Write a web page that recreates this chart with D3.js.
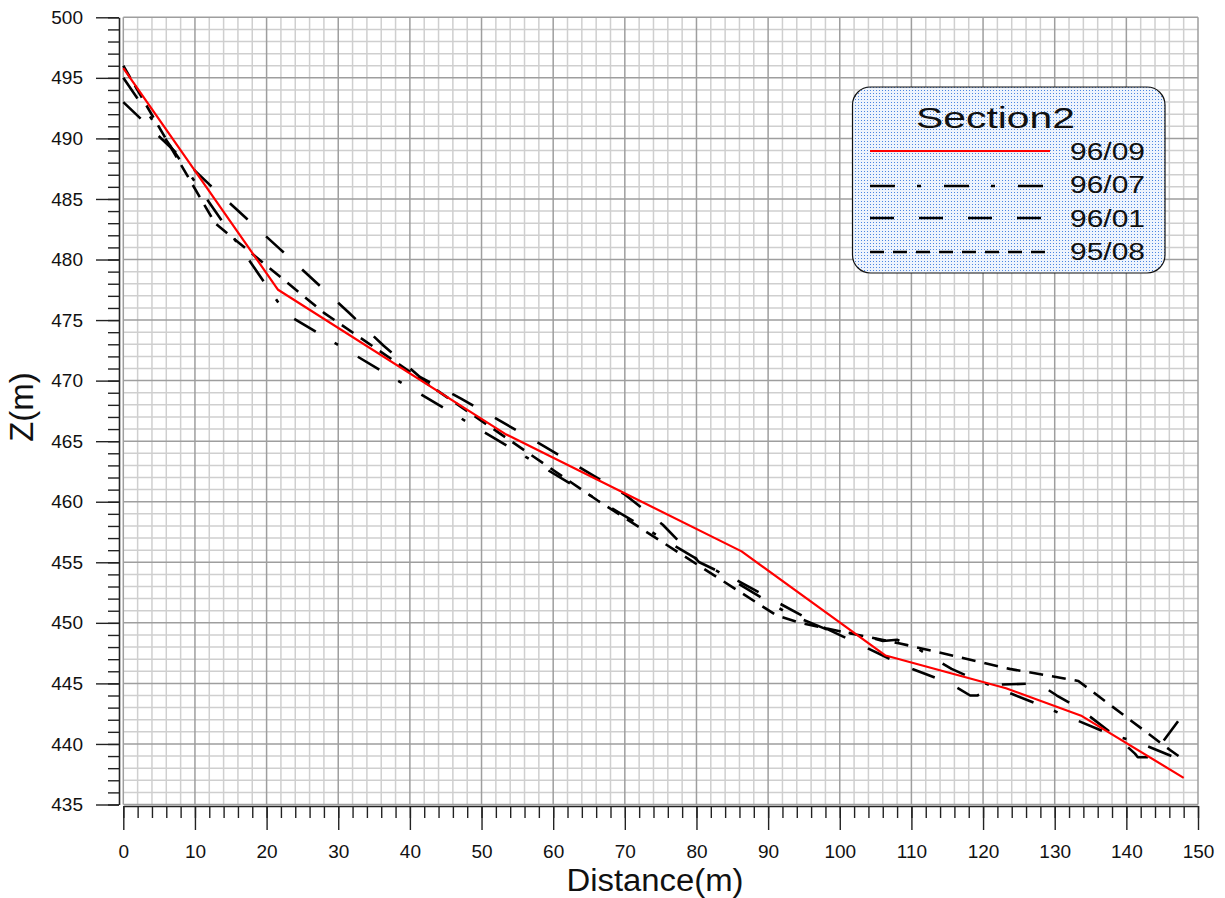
<!DOCTYPE html>
<html>
<head>
<meta charset="utf-8">
<script src="https://cdn.jsdelivr.net/npm/d3@7"></script>
<style>
  html, body { margin: 0; padding: 0; background: #ffffff; }
  svg { display: block; font-family: "Liberation Sans", Arial, sans-serif; }
</style>
</head>
<body>
<svg id="chart" width="1225" height="898"></svg>
<script>
// Section2 bed profiles, [distance (m), elevation Z (m)] per survey
const profile9609 = [[0,495.8],[21.6,477.5],[53.3,465.6],[86.3,455.9],[106.4,447.3],[123.2,444.6],[133.8,442.3],[148,437.2]];
const profile9607 = [[0,495],[21.8,476.3],[23.3,475.3],[93,450.7],[98,449.5],[103,449],[106,448.5],[108,448.6],[110.5,448],[115.6,446.2],[118.6,445.4],[128.4,443.1],[138.2,440.7],[141.3,440.2],[148,438.6]];
const profile9601 = [[0,493],[12,486.2],[21.8,480.9],[31.5,475.6],[36.3,472.9],[41.4,470.3],[47.2,468.5],[58.7,464.6],[70,460.6],[75.3,458.1],[80.4,455],[85.7,453.5],[97.5,449.7],[109.2,446.4],[115.4,445],[118.2,444],[119.2,444],[122.4,444.9],[127.7,445],[130.3,444],[133.5,442.9],[138.6,440.6],[141.2,439.2],[141.6,438.9],[143.7,438.9],[144,439.3],[147.5,442.1]];
const profile9508 = [[0,496],[12.8,483],[28,475.6],[66.2,460.1],[91.2,450.6],[94.5,450],[100,449.3],[108.4,448.3],[123.7,446.2],[133.3,445.2],[146.1,439.5],[148,438.7]];

// legend order and labels
const seriesLabels = ["96/09","96/07","96/01","95/08"];
const legendTitle = "Section2";

// axis ticks
const xTicks = d3.range(0, 151, 10);
const xMinorTicks = d3.range(0, 151, 2);
const yTicks = d3.range(435, 501, 5);
const yMinorTicks = d3.range(435, 501, 1);

const svg = d3.select("#chart");

const x = d3.scaleLinear().domain([0, 150]).range([123.3, 1198]);
const y = d3.scaleLinear().domain([435, 500]).range([804.5, 17.3]);

// dotted blue fill for the legend box
const defs = svg.append("defs");
const pat = defs.append("pattern").attr("id", "legendDots")
  .attr("width", 3).attr("height", 3).attr("patternUnits", "userSpaceOnUse");
pat.append("rect").attr("width", 3).attr("height", 3).attr("fill", "#eef4fd");
pat.append("rect").attr("width", 1).attr("height", 1).attr("fill", "#4d86e0");

// grid: fine lines every 2 m / 1 m, heavier every 10 m / 5 m
const grid = svg.append("g");
grid.selectAll("line.vminor").data(xMinorTicks.filter(d => d % 10 !== 0)).join("line")
  .attr("x1", d => x(d)).attr("x2", d => x(d))
  .attr("y1", y(500)).attr("y2", y(435))
  .attr("stroke", "#cfcfcf").attr("stroke-width", 1.5);
grid.selectAll("line.hminor").data(yMinorTicks.filter(d => d % 5 !== 0)).join("line")
  .attr("x1", x(0)).attr("x2", x(150))
  .attr("y1", d => y(d)).attr("y2", d => y(d))
  .attr("stroke", "#cfcfcf").attr("stroke-width", 1.5);
grid.selectAll("line.vmajor").data(xTicks).join("line")
  .attr("x1", d => x(d)).attr("x2", d => x(d))
  .attr("y1", y(500)).attr("y2", y(435))
  .attr("stroke", "#9e9e9e").attr("stroke-width", 1.5);
grid.selectAll("line.hmajor").data(yTicks).join("line")
  .attr("x1", x(0)).attr("x2", x(150))
  .attr("y1", d => y(d)).attr("y2", d => y(d))
  .attr("stroke", "#9e9e9e").attr("stroke-width", 1.5);

// axes, set slightly apart from the grid
const yAxisMinor = svg.append("g").attr("transform", "translate(119,0)")
  .call(d3.axisLeft(y).tickValues(yMinorTicks).tickSize(11).tickFormat(""));
yAxisMinor.select(".domain").remove();
const yAxis = svg.append("g").attr("transform", "translate(119,0)")
  .call(d3.axisLeft(y).tickValues(yTicks).tickSize(23).tickSizeOuter(0).tickPadding(13));

const xAxisMinor = svg.append("g").attr("transform", "translate(0,806)")
  .call(d3.axisBottom(x).tickValues(xMinorTicks).tickSize(12).tickFormat(""));
xAxisMinor.select(".domain").remove();
const xAxis = svg.append("g").attr("transform", "translate(0,806)")
  .call(d3.axisBottom(x).tickValues(xTicks).tickSize(24).tickSizeOuter(0).tickPadding(15));

svg.selectAll(".tick line").attr("stroke", "#222").attr("stroke-width", 1.4);
svg.selectAll(".domain").attr("stroke", "#222").attr("stroke-width", 1.6);
svg.selectAll(".tick text")
  .attr("font-family", "'Liberation Sans', Arial, sans-serif")
  .attr("font-size", 19).attr("fill", "#111");
yAxis.attr("font-family", null).attr("font-size", null);
xAxis.attr("font-family", null).attr("font-size", null);

// axis titles
svg.append("text")
  .attr("x", 655).attr("y", 891)
  .attr("text-anchor", "middle")
  .attr("font-size", 31).attr("fill", "#111")
  .attr("textLength", 177).attr("lengthAdjust", "spacingAndGlyphs")
  .text("Distance(m)");
svg.append("text")
  .attr("transform", "translate(33,407) rotate(-90)")
  .attr("text-anchor", "middle")
  .attr("font-size", 33).attr("fill", "#111")
  .text("Z(m)");

// profile lines
const line = d3.line().x(d => x(d[0])).y(d => y(d[1]));
const styles = {
  "96/09": { data: profile9609, color: "#ff0000", width: 2.2, dash: null },
  "96/07": { data: profile9607, color: "#000000", width: 2.6, dash: "25,22,4,23" },
  "96/01": { data: profile9601, color: "#000000", width: 2.6, dash: "24,25" },
  "95/08": { data: profile9508, color: "#000000", width: 2.6, dash: "14,9" }
};
const drawOrder = ["95/08", "96/01", "96/07", "96/09"];
svg.append("g").selectAll("path").data(drawOrder).join("path")
  .attr("d", k => line(styles[k].data))
  .attr("fill", "none")
  .attr("stroke", k => styles[k].color)
  .attr("stroke-width", k => styles[k].width)
  .attr("stroke-dasharray", k => styles[k].dash)
  .attr("stroke-linejoin", "round");

// legend
const lg = svg.append("g");
lg.append("rect")
  .attr("x", 852.5).attr("y", 87).attr("width", 312.5).attr("height", 186)
  .attr("rx", 18).attr("ry", 18)
  .attr("fill", "url(#legendDots)")
  .attr("stroke", "#111").attr("stroke-width", 1.2);
lg.append("text")
  .attr("x", 916).attr("y", 128)
  .attr("font-size", 30).attr("fill", "#111")
  .attr("textLength", 159).attr("lengthAdjust", "spacingAndGlyphs")
  .text(legendTitle);
const rowY = [151, 186, 218, 252];
const textY = [160, 193, 227, 260];
seriesLabels.forEach((k, i) => {
  const s = styles[k];
  lg.append("line")
    .attr("x1", 870).attr("x2", 1050)
    .attr("y1", rowY[i]).attr("y2", rowY[i])
    .attr("stroke", s.color).attr("stroke-width", s.width)
    .attr("stroke-dasharray", s.dash);
  lg.append("text")
    .attr("x", 1070).attr("y", textY[i])
    .attr("font-size", 23).attr("fill", "#111")
    .attr("textLength", 75).attr("lengthAdjust", "spacingAndGlyphs")
    .text(k);
});
</script>
</body>
</html>
